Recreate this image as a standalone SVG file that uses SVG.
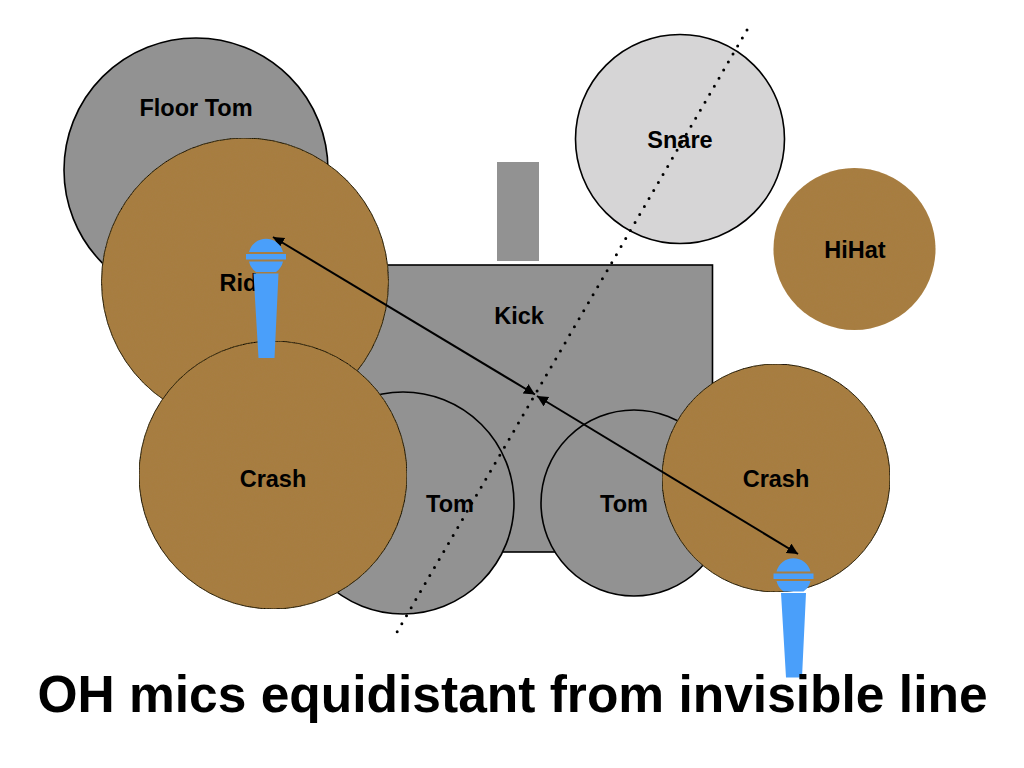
<svg xmlns="http://www.w3.org/2000/svg" width="1024" height="768" viewBox="0 0 1024 768">
<style>
.drum{fill:#929292;stroke:#000;stroke-width:1.6}
.cym{fill:#a87d42;stroke:#000;stroke-width:1}
.lbl{font-family:"Liberation Sans",Arial,sans-serif;font-weight:bold;font-size:23.500px;fill:#000;text-anchor:middle}
.mic{fill:#4a9ffa}
.arrow{fill:none;stroke:#000;stroke-width:2;marker-start:url(#h);marker-end:url(#h)}
</style>
<defs>
<marker id="h" markerUnits="userSpaceOnUse" markerWidth="13" markerHeight="13" refX="11" refY="5.500" orient="auto-start-reverse"><path d="M0 0L11 5.500L0 11Z" fill="#000"/></marker>
<filter id="tex" x="0" y="0" width="100%" height="100%"><feTurbulence type="fractalNoise" baseFrequency="0.7" numOctaves="3" seed="4" result="n"/><feColorMatrix in="n" type="matrix" values="0 0 0 0 0.35  0 0 0 0 0.22  0 0 0 0 0.05  0.5 0 0 0 -0.12" result="c"/><feComposite in="c" in2="SourceGraphic" operator="in" result="t"/><feMerge><feMergeNode in="SourceGraphic"/><feMergeNode in="t"/></feMerge></filter>
<path id="m" class="mic" d="M-17 -3.500A17.500 17.500 0 0 1 17 -3.500ZM-20 -1.500H20V4H-20ZM-17 6H17A17.500 17.500 0 0 1 10 16.500H-10A17.500 17.500 0 0 1 -17 6ZM-12.500 18H12.500L8.500 102.500H-7.500Z"/>
</defs>
<rect width="1024" height="768" fill="#fff"/>
<g id="floor-tom"><circle class="drum" cx="196" cy="170" r="132"/><text class="lbl" x="196" y="116">Floor Tom</text></g>
<g id="snare"><circle cx="680" cy="139" r="104.500" fill="#d6d5d6" stroke="#000" stroke-width="1.600"/><text class="lbl" x="680" y="148">Snare</text></g>
<g id="stick"><rect x="497" y="162" width="42" height="99" fill="#929292"/></g>
<g id="kick"><rect class="drum" x="300" y="265" width="412.500" height="287"/><text class="lbl" x="519" y="324">Kick</text></g>
<g id="hihat"><circle class="cym" style="stroke:none" filter="url(#tex)" cx="854.500" cy="249" r="81"/><text class="lbl" x="855" y="258">HiHat</text></g>
<g id="tom-1"><circle class="drum" cx="403" cy="503" r="111"/><text class="lbl" x="450" y="512">Tom</text></g>
<g id="tom-2"><circle class="drum" cx="634" cy="503" r="93"/><text class="lbl" x="624" y="512">Tom</text></g>
<g id="ride"><circle class="cym" filter="url(#tex)" cx="245" cy="281.500" r="143.500"/><text class="lbl" x="245" y="291">Ride</text></g>
<g id="crash-left"><circle class="cym" filter="url(#tex)" cx="273" cy="475" r="134"/><text class="lbl" x="273" y="487">Crash</text></g>
<g id="crash-right"><circle class="cym" filter="url(#tex)" cx="776" cy="478" r="114"/><text class="lbl" x="776" y="487">Crash</text></g>
<g id="connectors">
<line x1="747" y1="30" x2="397" y2="632" stroke="#000" stroke-width="3" stroke-linecap="round" stroke-dasharray="0 9.280"/>
<line class="arrow" x1="273" y1="237" x2="535" y2="394.500"/>
<line class="arrow" x1="537" y1="396" x2="798" y2="554"/>
</g>
<g id="mic-left"><use href="#m" x="266" y="255.500"/></g>
<g id="mic-right"><use href="#m" x="793.500" y="575"/></g>
<text id="title" x="512.500" y="712" style="font-family:'Liberation Sans',Arial,sans-serif;font-weight:bold;font-size:51.500px;text-anchor:middle;fill:#000">OH mics equidistant from invisible line</text>
</svg>
